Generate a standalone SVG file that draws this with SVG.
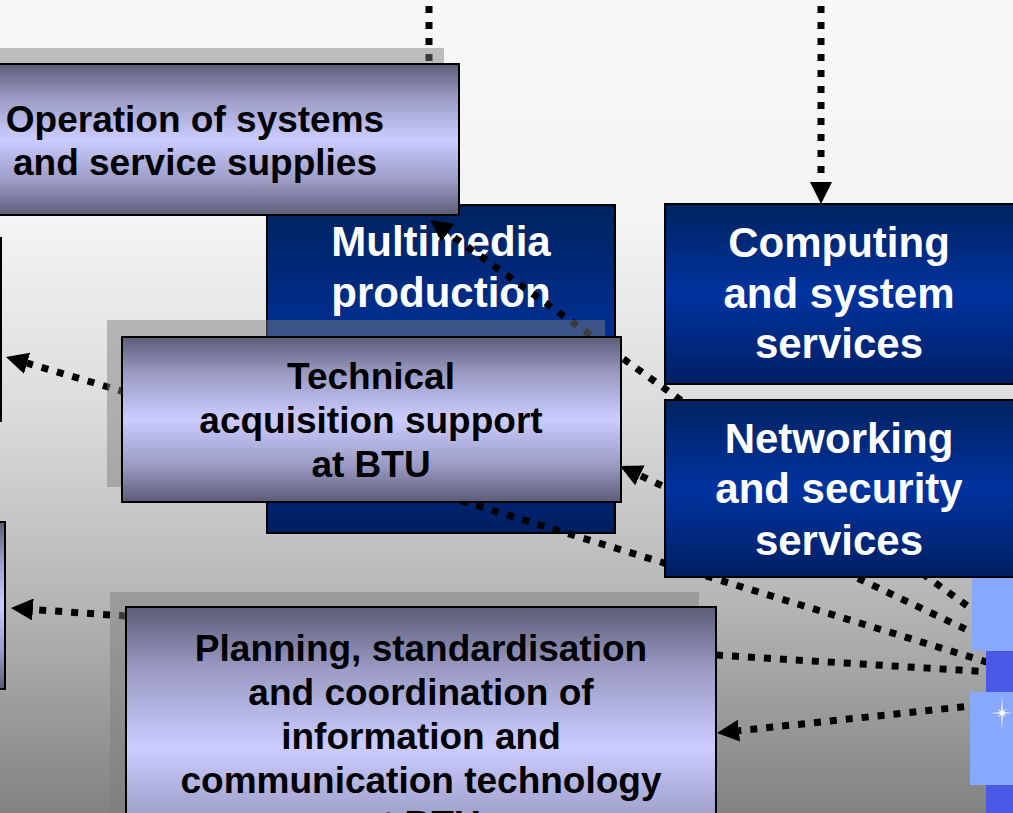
<svg xmlns="http://www.w3.org/2000/svg" width="1013" height="813" viewBox="0 0 1013 813">
<defs>
<linearGradient id="bg" x1="0" y1="0" x2="0" y2="1">
<stop offset="0" stop-color="#f8f8f8"/>
<stop offset="0.28" stop-color="#f3f3f3"/>
<stop offset="0.5" stop-color="#dcdcdc"/>
<stop offset="0.75" stop-color="#b4b4b4"/>
<stop offset="1" stop-color="#828282"/>
</linearGradient>
<linearGradient id="purple" x1="0" y1="0" x2="0" y2="1">
<stop offset="0" stop-color="#5c5c78"/>
<stop offset="0.22" stop-color="#9a9ac4"/>
<stop offset="0.5" stop-color="#ccccff"/>
<stop offset="0.78" stop-color="#9a9ac4"/>
<stop offset="1" stop-color="#5c5c78"/>
</linearGradient>
<linearGradient id="blue" x1="0" y1="0" x2="0" y2="1">
<stop offset="0" stop-color="#00225f"/>
<stop offset="0.5" stop-color="#0033a0"/>
<stop offset="1" stop-color="#001f62"/>
</linearGradient>
<marker id="arr" viewBox="0 0 22 22" refX="0" refY="11" markerWidth="22" markerHeight="22" markerUnits="userSpaceOnUse" orient="auto">
<path d="M0,0 L22,11 L0,22 Z" fill="#000"/>
</marker>
</defs>
<style>
.pbox{fill:url(#purple);stroke:#000;stroke-width:2}
.bbox{fill:url(#blue);stroke:#000;stroke-width:2}
.shadow{fill:#7d7d7d;fill-opacity:0.48}
.pt{font-family:"Liberation Sans",Arial,sans-serif;font-weight:bold;font-size:37px;fill:#000;text-anchor:middle}
.bt{font-family:"Liberation Sans",Arial,sans-serif;font-weight:bold;font-size:42px;fill:#fff;text-anchor:middle}
.con{fill:none;stroke:#000;stroke-width:7;stroke-dasharray:7 9}
.star{fill:#ffffff}
</style>
<rect x="0" y="0" width="1013" height="813" fill="url(#bg)"/>

<g id="node-multimedia">
<rect class="bbox" x="267" y="205" width="348" height="328"/>
<text class="bt" x="441" y="256">Multimedia</text>
<text class="bt" x="441" y="307">production</text>
</g>
<g id="node-computing">
<rect class="bbox" x="665" y="204" width="352" height="180"/>
<text class="bt" x="839" y="257">Computing</text>
<text class="bt" x="839" y="308">and system</text>
<text class="bt" x="839" y="358">services</text>
</g>

<g id="connectors">
<path class="con" d="M429,-10 L429,140"/>
<path class="con" d="M821,-10 L821,182" marker-end="url(#arr)"/>
<path class="con" d="M980,615 L447.9,232.8" marker-end="url(#arr)"/>
<path class="con" d="M400,482 L990,663"/>
<path class="con" d="M980,636 L639.9,475.4" marker-end="url(#arr)"/>
<path class="con" d="M716,655 L990,672"/>
<path class="con" d="M980,705 L738.9,730.7" marker-end="url(#arr)"/>
<path class="con" d="M125,392 L27.1,363.2" marker-end="url(#arr)"/>
<path class="con" d="M126,616 L32.9,609.5" marker-end="url(#arr)"/>
</g>

<g id="node-operation">
<rect class="shadow" x="-90" y="48" width="534" height="151"/>
<rect class="pbox" x="-70" y="64" width="529" height="151"/>
<text class="pt" x="195" y="132">Operation of systems</text>
<text class="pt" x="195" y="175">and service supplies</text>
</g>
<g id="node-technical">
<rect class="shadow" x="107" y="320" width="498" height="167"/>
<rect class="pbox" x="122" y="337" width="499" height="165"/>
<text class="pt" x="371" y="389">Technical</text>
<text class="pt" x="371" y="433">acquisition support</text>
<text class="pt" x="371" y="477">at BTU</text>
</g>
<g id="node-planning">
<rect class="shadow" x="110" y="592" width="589" height="280"/>
<rect class="pbox" x="126" y="607" width="590" height="280"/>
<text class="pt" x="421" y="661">Planning, standardisation</text>
<text class="pt" x="421" y="705">and coordination of</text>
<text class="pt" x="421" y="749">information and</text>
<text class="pt" x="421" y="793">communication technology</text>
<text class="pt" x="421" y="837">at BTU</text>
</g>
<g id="node-networking">
<rect class="bbox" x="665" y="400" width="352" height="177"/>
<text class="bt" x="839" y="453">Networking</text>
<text class="bt" x="839" y="503">and security</text>
<text class="bt" x="839" y="555">services</text>
</g>
<g id="node-left-a">
<rect class="pbox" x="-300" y="238" width="301" height="183"/>
</g>
<g id="node-left-b">
<rect class="pbox" x="-300" y="522" width="305" height="167"/>
</g>
<g id="right-strip">
<rect x="986" y="578" width="30" height="240" fill="#4a5ae6"/>
<rect x="972" y="578" width="44" height="73" fill="#88a8ff"/>
<rect x="970" y="692" width="46" height="93" fill="#88a8ff"/>
<polygon class="star" points="1002,696 1002.8,711.2 1006.2,708.8 1003.8,712.2 1014,713 1003.8,713.8 1006.2,717.2 1002.8,714.8 1002,730 1001.2,714.8 997.8,717.2 1000.2,713.8 990,713 1000.2,712.2 997.8,708.8 1001.2,711.2"/>
</g>
</svg>
